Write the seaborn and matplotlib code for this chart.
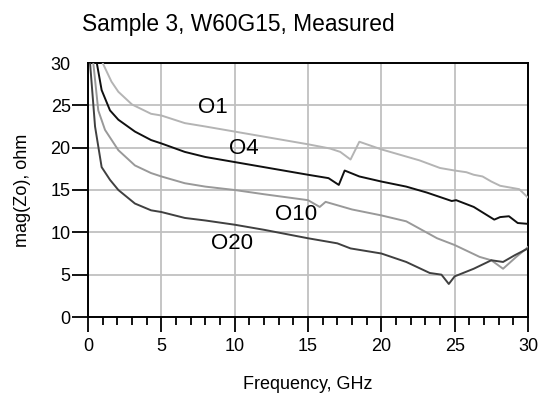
import matplotlib
matplotlib.use("Agg")
import matplotlib.pyplot as plt
import seaborn as sns
import pandas as pd
from matplotlib.ticker import MultipleLocator

# ---- data ----
o1_f = [0.7, 1.0, 1.6, 2.07, 3.0, 4.3, 5.0, 6.6, 8.0, 10.0, 12.0, 15.0, 16.5, 17.2, 17.9, 18.5,
        20.0, 21.0, 22.6, 24.0, 25.0, 25.8, 26.3, 26.9, 27.5, 28.1, 29.4, 30.0]
o1_v = [33.0, 30.0, 27.8, 26.6, 25.1, 24.0, 23.8, 22.9, 22.5, 21.9, 21.3, 20.4, 19.9, 19.5, 18.6, 20.7,
        19.8, 19.3, 18.5, 17.6, 17.3, 17.1, 16.8, 16.6, 16.0, 15.5, 15.1, 14.1]

o4_f = [0.4, 0.6, 0.93, 1.5, 2.07, 3.2, 4.3, 5.0, 6.6, 8.0, 10.0, 12.0, 15.0, 16.4, 17.1, 17.5,
        18.5, 20.0, 21.7, 23.1, 24.8, 25.1, 26.3, 27.7, 28.1, 28.7, 29.3, 30.0]
o4_v = [33.0, 30.0, 26.8, 24.4, 23.3, 21.9, 20.9, 20.5, 19.5, 18.9, 18.3, 17.7, 16.8, 16.4, 15.6, 17.3,
        16.6, 16.0, 15.4, 14.7, 13.7, 13.8, 13.0, 11.5, 11.8, 11.9, 11.1, 11.0]

o10_f = [0.2, 0.36, 0.7, 1.16, 2.07, 3.2, 4.3, 5.0, 6.6, 8.0, 10.0, 12.0, 15.0, 15.8, 16.2, 17.2,
         18.0, 20.0, 21.7, 23.8, 25.0, 26.7, 27.5, 28.3, 29.2, 29.9, 30.0]
o10_v = [33.0, 30.0, 24.4, 22.1, 19.7, 17.9, 17.0, 16.6, 15.8, 15.4, 15.0, 14.5, 13.8, 13.0, 13.6, 13.1,
         12.7, 12.0, 11.3, 9.3, 8.5, 7.1, 6.7, 5.7, 7.1, 8.1, 8.3]

o20_f = [0.05, 0.14, 0.48, 0.93, 1.5, 2.07, 3.2, 4.3, 5.0, 6.6, 8.0, 10.0, 12.0, 15.0, 17.0, 17.9,
         20.0, 21.7, 23.3, 24.1, 24.6, 25.0, 26.3, 27.5, 28.3, 29.1, 30.0]
o20_v = [33.0, 30.0, 22.5, 17.7, 16.2, 15.0, 13.4, 12.6, 12.4, 11.7, 11.4, 10.9, 10.3, 9.3, 8.7, 8.1,
         7.5, 6.5, 5.2, 5.0, 3.9, 4.8, 5.7, 6.7, 6.5, 7.3, 8.1]

series_names = ["O1", "O4", "O10", "O20"]
series_colors = ["#b4b4b4", "#101010", "#999999", "#404040"]
label_pos = [(8.5, 24.7), (10.6, 19.9), (14.2, 12.1), (9.8, 8.7)]

title = "Sample 3, W60G15, Measured"
xlabel = "Frequency, GHz"
ylabel = "mag(Zo), ohm"

sns.set_theme(style="white")
plt.rcParams["font.family"] = ["Liberation Sans", "DejaVu Sans"]
plt.rcParams.update({"text.color": "black", "axes.labelcolor": "black",
                     "xtick.color": "black", "ytick.color": "black"})

fig = plt.figure(figsize=(5.4, 3.94), dpi=100)
ax = fig.add_axes([88 / 540, 77 / 394, 440 / 540, 254 / 394])

data = [(o1_f, o1_v), (o4_f, o4_v), (o10_f, o10_v), (o20_f, o20_v)]
for (f, v), name, c in zip(data, series_names, series_colors):
    df = pd.DataFrame({"f": f, "v": v})
    sns.lineplot(data=df, x="f", y="v", ax=ax, color=c, lw=1.4, sort=False,
                 estimator=None, zorder=3)

for name, (x, y) in zip(series_names, label_pos):
    ax.text(x, y, name, fontsize=16, ha="center", va="center", color="black", zorder=4)

ax.set_xlim(0, 30)
ax.set_ylim(0, 30)
ax.xaxis.set_major_locator(MultipleLocator(5))
ax.xaxis.set_minor_locator(MultipleLocator(1))
ax.yaxis.set_major_locator(MultipleLocator(5))
for s in ax.spines.values():
    s.set_color("black")
    s.set_linewidth(1.4)
ax.tick_params(axis="x", which="major", direction="out", length=11, width=1.3,
               color="black", labelcolor="black", labelsize=13, pad=4, bottom=True)
ax.tick_params(axis="x", which="minor", direction="out", length=5.5, width=1.3,
               color="black", bottom=True)
ax.tick_params(axis="y", which="major", direction="out", length=11.5, width=1.3,
               color="black", labelcolor="black", labelsize=13, pad=1, left=True)
ax.set_xlabel(xlabel, fontsize=13, labelpad=15, color="black")
ax.set_ylabel(ylabel, fontsize=13, labelpad=14, color="black")
fig.text(82 / 540, 1 - 24 / 394, title, fontsize=16.4, ha="left", va="center", color="black")

ax.set_axisbelow(True)
ax.grid(True, which="major", axis="both", color="#c0c0c0", linewidth=1.3)

fig.canvas.draw()
yticks = ax.yaxis.get_major_ticks()
for t, loc in zip(yticks, ax.get_yticks()):
    if abs(loc - 30) < 1e-6:
        t.tick1line.set_visible(False)

fig.savefig("out.png", dpi=100)
